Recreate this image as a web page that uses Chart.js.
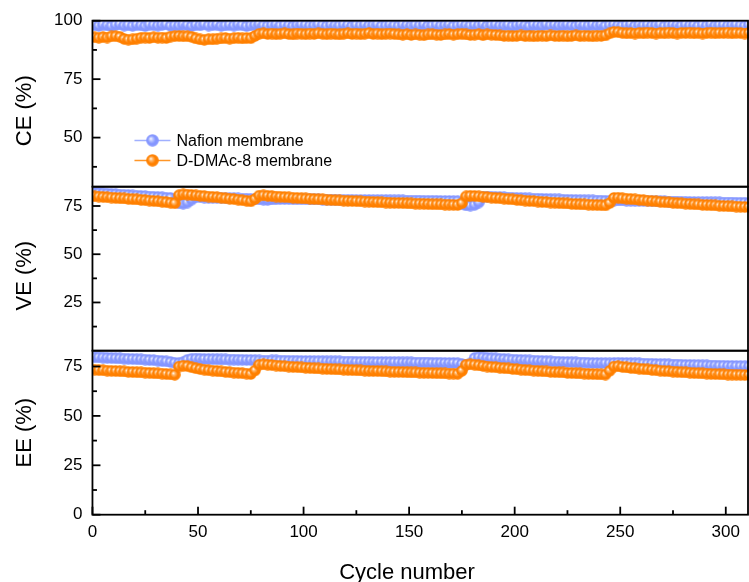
<!DOCTYPE html>
<html>
<head>
<meta charset="utf-8">
<script src="https://cdn.jsdelivr.net/npm/chart.js@4.4.1/dist/chart.umd.min.js"></script>
<style>
  html, body { margin: 0; padding: 0; background: #fff; overflow: hidden; }
  #myChart { display: block; }
</style>
</head>
<body>
<canvas id="myChart" width="749" height="600"></canvas>
<script>
/*######################   DATOS   ####################*/
const cycles = [
  1,3,5,7,9,11,13,15,17,19, 21,23,25,27,29,31,33,35,37,39,
  41,43,45,47,49,51,53,55,57,59, 61,63,65,67,69,71,73,75,77,79,
  81,83,85,87,89,91,93,95,97,99, 101,103,105,107,109,111,113,115,117,119,
  121,123,125,127,129,131,133,135,137,139, 141,143,145,147,149,151,153,155,157,159,
  161,163,165,167,169,171,173,175,177,179, 181,183,185,187,189,191,193,195,197,199,
  201,203,205,207,209,211,213,215,217,219, 221,223,225,227,229,231,233,235,237,239,
  241,243,245,247,249,251,253,255,257,259, 261,263,265,267,269,271,273,275,277,279,
  281,283,285,287,289,291,293,295,297,299, 301,303,305,307,309,311
];

const seriesNames = ['Nafion membrane', 'D-DMAc-8 membrane'];
const xTitle = 'Cycle number';

/* CE (%) */
const nafionCE = [
  98.1,97.8,98.3,98.0,97.7,98.2,98.4,97.9,98.1,97.8, 98.2,98.0,97.7,98.3,98.1,97.9,98.2,98.4,97.8,98.0,
  97.9,98.3,98.1,97.7,98.2,98.0,98.4,97.9,98.1,98.3, 97.8,98.0,98.2,97.9,98.3,98.1,97.7,98.0,98.2,98.4,
  98.0,97.8,98.1,98.3,97.9,98.2,98.0,97.7,98.1,98.3, 98.2,97.9,98.0,98.4,98.1,97.8,98.2,98.0,97.9,98.3,
  98.1,97.7,98.2,98.0,98.3,97.9,98.1,98.4,97.8,98.0, 98.2,98.0,97.8,98.3,98.1,97.9,98.2,98.0,98.4,97.8,
  98.0,98.3,97.9,98.1,98.2,97.7,98.0,98.3,98.1,97.9, 98.2,98.0,98.4,97.8,98.1,98.3,97.9,98.0,98.2,97.8,
  98.1,98.3,98.0,97.7,98.2,98.1,97.9,98.4,98.0,98.2, 97.9,98.1,98.3,98.0,97.8,98.2,98.1,97.9,98.3,98.0,
  98.2,97.8,98.1,98.3,98.0,97.9,98.2,98.4,97.8,98.1, 98.0,98.2,97.9,98.1,98.3,97.7,98.0,98.2,98.1,97.9,
  98.3,98.0,98.1,97.8,98.2,98.0,98.4,97.9,98.1,98.2, 97.9,98.1,98.3,98.0,97.8,98.2
];
const ddmacCE = [
  92.9,92.7,93.0,92.8,93.3,93.4,93.1,92.2,91.9,92.0, 92.3,92.7,92.8,92.6,92.9,92.7,92.8,92.6,93.2,93.4,
  93.5,93.3,93.4,93.1,92.4,92.0,91.8,92.1,92.0,92.3, 92.4,92.6,92.3,92.5,92.7,92.4,92.6,92.5,93.5,94.4,
  94.6,94.3,94.5,94.2,94.4,94.6,94.3,94.1,94.5,94.4, 94.2,94.5,94.3,94.6,94.4,94.2,94.5,94.3,94.1,94.4,
  94.6,94.3,94.5,94.2,94.4,94.7,94.3,94.5,94.2,94.4, 94.5,94.3,94.1,94.0,94.2,93.9,94.1,94.0,93.8,94.1,
  94.2,94.0,93.9,94.1,94.3,94.0,94.2,94.4,94.1,93.9, 94.0,94.2,93.8,94.1,94.0,93.9,93.7,93.5,93.6,93.4,
  93.5,93.7,93.4,93.6,93.3,93.5,93.6,93.4,93.7,93.5, 93.4,93.6,93.3,93.5,93.7,93.4,93.6,93.5,93.3,93.6,
  93.5,93.7,94.6,95.2,95.1,94.8,94.6,94.7,94.5,94.8, 94.6,94.9,94.7,94.5,94.8,94.6,94.9,94.7,94.5,94.8,
  94.7,94.9,94.6,94.8,94.5,94.7,94.9,94.6,94.8,94.7, 94.9,94.6,94.8,94.7,94.5,94.8
];

/* VE (%) */
const nafionVE = [
  81.8,81.7,81.5,81.4,81.2,81.1,80.9,80.8,80.7,80.5, 80.4,80.2,80.1,79.9,79.8,79.6,79.5,79.3,79.2,77.2,
  76.4,76.2,76.8,78.3,79.6,79.5,79.4,79.4,79.3,79.2, 79.2,79.1,79.0,79.0,78.9,78.8,78.8,78.7,78.6,78.4,
  78.3,78.2,78.4,78.5,78.6,78.6,78.6,78.5,78.5,78.5, 78.5,78.4,78.4,78.4,78.3,78.3,78.3,78.3,78.2,78.2,
  78.2,78.2,78.1,78.1,78.1,78.1,78.0,78.0,78.0,78.0, 77.9,77.9,77.9,77.9,77.8,77.8,77.8,77.8,77.7,77.7,
  77.7,77.7,77.6,77.6,77.6,77.5,77.5,76.0,75.3,75.2, 75.6,76.8,79.8,79.9,79.8,79.7,79.6,79.5,79.4,79.3,
  79.2,79.1,79.0,78.9,78.8,78.8,78.7,78.6,78.5,78.4, 78.4,78.3,78.2,78.2,78.1,78.0,78.0,77.9,77.9,77.8,
  77.8,77.7,77.7,77.8,77.9,77.9,77.8,77.8,77.7,77.7, 77.6,77.6,77.5,77.5,77.4,77.4,77.3,77.3,77.3,77.2,
  77.2,77.1,77.1,77.0,77.0,77.0,76.9,76.9,76.9,76.8, 76.8,76.8,76.7,76.7,76.7,76.6
];
const ddmacVE = [
  80.0,79.9,79.7,79.5,79.4,79.2,79.0,78.9,78.7,78.5, 78.4,78.2,78.0,77.8,77.6,77.4,77.2,77.0,76.7,76.4,
  80.6,81.0,80.9,80.7,80.5,80.3,80.1,79.9,79.7,79.5, 79.3,79.0,78.8,78.6,78.3,78.0,77.7,77.4,78.6,80.4,
  80.5,80.3,80.1,79.9,79.8,79.6,79.5,79.3,79.2,79.0, 78.9,78.8,78.6,78.5,78.4,78.3,78.1,78.0,77.9,77.8,
  77.7,77.6,77.5,77.4,77.3,77.2,77.1,77.0,76.9,76.8, 76.7,76.6,76.6,76.5,76.4,76.3,76.2,76.2,76.1,76.0,
  75.9,75.9,75.8,75.7,75.7,75.6,75.5,76.4,80.0,80.3, 80.2,80.0,79.8,79.6,79.4,79.2,79.0,78.8,78.6,78.4,
  78.2,78.0,77.8,77.6,77.5,77.3,77.1,77.0,76.8,76.7, 76.5,76.4,76.3,76.1,76.0,75.9,75.8,75.7,75.6,75.5,
  75.4,75.3,76.5,79.2,79.3,79.0,78.8,78.6,78.4,78.2, 78.0,77.8,77.6,77.4,77.2,77.0,76.9,76.7,76.5,76.4,
  76.2,76.1,75.9,75.8,75.6,75.5,75.4,75.3,75.1,75.0, 74.9,74.8,74.7,74.6,74.5,74.5
];

/* EE (%) */
const nafionEE = [
  79.7,79.6,79.5,79.4,79.3,79.2,79.1,79.0,78.9,78.8, 78.7,78.6,78.5,78.3,78.2,78.0,77.8,77.6,77.3,76.9,
  76.7,77.2,78.4,78.9,79.0,78.9,78.8,78.8,78.7,78.7, 78.6,78.6,78.5,78.5,78.4,78.4,78.3,78.3,78.2,78.1,
  78.0,78.0,78.1,78.1,78.0,78.0,77.9,77.9,77.9,77.8, 77.8,77.8,77.7,77.7,77.7,77.6,77.6,77.6,77.6,77.5,
  77.5,77.5,77.4,77.4,77.4,77.4,77.3,77.3,77.3,77.2, 77.2,77.2,77.2,77.1,77.1,77.1,77.0,77.0,77.0,77.0,
  76.9,76.9,76.9,76.8,76.8,76.8,76.7,76.3,76.0,76.6, 79.3,79.7,79.6,79.4,79.2,79.1,78.9,78.8,78.6,78.5,
  78.4,78.3,78.2,78.1,78.0,77.9,77.8,77.7,77.6,77.5, 77.4,77.3,77.3,77.2,77.1,77.0,77.0,76.9,76.8,76.8,
  76.7,76.7,76.6,76.8,76.9,76.8,76.8,76.7,76.6,76.6, 76.5,76.4,76.4,76.3,76.2,76.2,76.1,76.0,76.0,75.9,
  75.8,75.8,75.7,75.7,75.6,75.6,75.5,75.5,75.4,75.4, 75.3,75.3,75.2,75.2,75.1,75.1
];
const ddmacEE = [
  73.4,73.2,73.1,72.9,72.8,72.7,72.6,72.5,72.3,72.2, 72.1,72.0,71.9,71.8,71.6,71.5,71.4,71.2,71.0,70.8,
  75.0,75.4,75.2,74.6,74.1,73.7,73.4,73.1,72.9,72.7, 72.5,72.3,72.1,71.9,71.8,71.6,71.4,71.2,73.0,75.9,
  76.1,75.9,75.7,75.5,75.3,75.1,75.0,74.8,74.7,74.5, 74.4,74.3,74.1,74.0,73.9,73.8,73.7,73.6,73.5,73.4,
  73.3,73.2,73.1,73.0,72.9,72.8,72.7,72.7,72.6,72.5, 72.4,72.3,72.3,72.2,72.1,72.0,72.0,71.9,71.8,71.8,
  71.7,71.6,71.6,71.5,71.4,71.4,71.3,72.8,75.9,76.1, 75.9,75.6,75.3,75.0,74.8,74.6,74.4,74.2,74.0,73.8,
  73.6,73.4,73.2,73.1,72.9,72.8,72.6,72.5,72.3,72.2, 72.1,72.0,71.8,71.7,71.6,71.5,71.4,71.3,71.2,71.1,
  71.0,70.9,72.8,75.0,75.1,74.8,74.5,74.3,74.1,73.9, 73.7,73.5,73.3,73.1,72.9,72.7,72.6,72.4,72.3,72.1,
  72.0,71.9,71.7,71.6,71.5,71.4,71.3,71.2,71.1,71.0, 70.9,70.9,70.8,70.8,70.7,70.7
];

/* ticks */
const xTicks = [0, 50, 100, 150, 200, 250, 300];
const xMinor = [25, 75, 125, 175, 225, 275];
const ceTicks = [50, 75, 100];
const ceMinor = [37.5, 62.5, 87.5];
const veTicks = [25, 50, 75];
const veMinor = [12.5, 37.5, 62.5];
const eeTicks = [0, 25, 50, 75];
const eeMinor = [12.5, 37.5, 62.5];

/*######################   ESTILO   ####################*/
const FONT = 'Arial, "Liberation Sans", sans-serif';
Chart.defaults.font.family = FONT;
Chart.defaults.color = '#000';

const blue = { base: 'rgb(132,150,255)', light: 'rgb(196,206,255)', line: 'rgb(160,176,255)' };
const orange = { base: 'rgb(255,128,0)', light: 'rgb(255,190,120)', line: 'rgb(255,150,40)' };

/* marcador tipo esfera (como en Origin) */
let ball = (col) => {
  const c = document.createElement('canvas');
  c.width = 12; c.height = 12;
  const g = c.getContext('2d');
  const grad = g.createRadialGradient(4.3, 4.3, 0.2, 6, 6, 5.8);
  grad.addColorStop(0, '#ffffff');
  grad.addColorStop(0.22, col.light);
  grad.addColorStop(0.6, col.base);
  grad.addColorStop(1, col.base);
  g.fillStyle = grad;
  g.beginPath();
  g.arc(6, 6, 5.8, 0, Math.PI * 2);
  g.fill();
  return c;
};
const blueBall = ball(blue);
const orangeBall = ball(orange);

let xy = (vals) => cycles.map((c, i) => ({ x: c, y: vals[i] }));

let serie = (label, vals, axis, col, img, order) => ({
  label: label,
  data: xy(vals),
  yAxisID: axis,
  borderColor: col.line,
  borderWidth: 1.5,
  pointStyle: img,
  pointRadius: 5.5,
  tension: 0,
  order: order
});

/*######################   MARCOS, TICKS, TITULOS Y LEYENDA   ####################*/
const panels = [
  { id: 'yCE', title: 'CE (%)', shift: 7, major: ceTicks, minor: ceMinor },
  { id: 'yVE', title: 'VE (%)', shift: 7, major: veTicks, minor: veMinor },
  { id: 'yEE', title: 'EE (%)', shift: 0, major: eeTicks, minor: eeMinor }
];

const frames = {
  id: 'frames',
  afterDatasetsDraw(chart) {
    const { ctx, chartArea, scales } = chart;
    const left = chartArea.left, right = chartArea.right;
    ctx.save();
    ctx.strokeStyle = '#000';
    ctx.lineWidth = 1.8;
    let seg = (x1, y1, x2, y2) => { ctx.beginPath(); ctx.moveTo(x1, y1); ctx.lineTo(x2, y2); ctx.stroke(); };

    panels.forEach(p => {
      const s = scales[p.id];
      ctx.strokeRect(left, s.top, right - left - 1, s.bottom - s.top);
      p.major.forEach(v => { const y = s.getPixelForValue(v); seg(left, y, left + 8, y); });
      p.minor.forEach(v => { const y = s.getPixelForValue(v); seg(left, y, left + 4.5, y); });
    });

    const xs = scales.x;
    const bottom = scales.yEE.bottom;
    xTicks.forEach(v => { const x = xs.getPixelForValue(v); seg(x, bottom, x, bottom - 8); });
    xMinor.forEach(v => { const x = xs.getPixelForValue(v); seg(x, bottom, x, bottom - 4.5); });

    /* titulos de ejes */
    ctx.fillStyle = '#000';
    ctx.font = '22px ' + FONT;
    ctx.textAlign = 'center';
    ctx.textBaseline = 'middle';
    panels.forEach(p => {
      const s = scales[p.id];
      ctx.save();
      ctx.translate(25, (s.top + s.bottom) / 2 + p.shift);
      ctx.rotate(-Math.PI / 2);
      ctx.fillText(p.title, 0, 0);
      ctx.restore();
    });
    ctx.fillText(xTitle, xs.getPixelForValue(149), bottom + 58);

    /* leyenda */
    const ce = scales.yCE;
    const lx = left + 42;
    const imgs = [blueBall, orangeBall];
    const cols = [blue, orange];
    const ly0 = ce.getPixelForValue(48.8);
    ctx.textAlign = 'left';
    ctx.font = '16px ' + FONT;
    seriesNames.forEach((name, i) => {
      const y = ly0 + i * 20;
      ctx.strokeStyle = cols[i].line;
      ctx.lineWidth = 1.5;
      seg(lx, y, lx + 36, y);
      ctx.drawImage(imgs[i], lx + 18 - 6.5, y - 6.5, 13, 13);
      ctx.fillText(name, lx + 42, y + 1);
    });
    ctx.restore();
  }
};

/*######################   GRAFICO   ####################*/
let yAxis = (min, max, weight, ticks) => ({
  type: 'linear',
  position: 'left',
  stack: 'panels',
  stackWeight: weight,
  min: min,
  max: max,
  grid: { display: false, drawTicks: false },
  border: { display: false },
  afterBuildTicks: s => { s.ticks = ticks.map(v => ({ value: v })); },
  ticks: { padding: 10, color: '#000', font: { size: 17 } }
});

const ctx = document.getElementById('myChart');
const chart = new Chart(ctx, {
  type: 'line',
  data: {
    datasets: [
      serie(seriesNames[0], nafionCE, 'yCE', blue, blueBall, 1),
      serie(seriesNames[0], nafionVE, 'yVE', blue, blueBall, 1),
      serie(seriesNames[0], nafionEE, 'yEE', blue, blueBall, 1),
      serie(seriesNames[1], ddmacCE, 'yCE', orange, orangeBall, 0),
      serie(seriesNames[1], ddmacVE, 'yVE', orange, orangeBall, 0),
      serie(seriesNames[1], ddmacEE, 'yEE', orange, orangeBall, 0)
    ]
  },
  options: {
    responsive: false,
    animation: false,
    events: [],
    /* el hueco de la izquierda y de abajo es para los titulos */
    layout: { autoPadding: false, padding: { top: 20.7, bottom: 50.9, left: 44.1, right: 0 } },
    plugins: { legend: { display: false }, tooltip: { enabled: false } },
    scales: {
      x: {
        type: 'linear',
        min: 0,
        max: 311,
        grid: { display: false, drawTicks: false },
        border: { display: false },
        afterBuildTicks: s => { s.ticks = xTicks.map(v => ({ value: v })); },
        ticks: { padding: 7, color: '#000', font: { size: 17 } }
      },
      /* el primero de la pila queda abajo */
      yEE: yAxis(0, 83, 164, eeTicks),
      yVE: yAxis(0, 85, 164, veTicks),
      yCE: yAxis(29, 100, 166, ceTicks)
    }
  },
  plugins: [frames]
});
</script>
</body>
</html>
